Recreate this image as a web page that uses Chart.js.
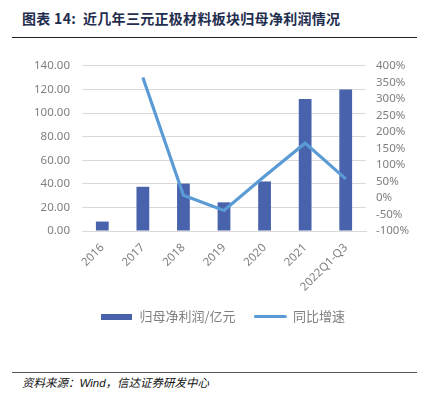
<!DOCTYPE html>
<html><head><meta charset="utf-8">
<script src="https://cdn.jsdelivr.net/npm/chart.js@4.4.0/dist/chart.umd.min.js"></script>
<style>
html,body{margin:0;padding:0;background:#fff;width:423px;height:397px;overflow:hidden;}
#title{position:absolute;left:22px;top:8px;font-family:"Noto Sans CJK SC";font-weight:bold;font-size:14px;color:#1f2d4e;white-space:nowrap;letter-spacing:0.3px;}
#topline{position:absolute;left:12px;top:37px;width:405px;height:0;border-top:1px solid #222;}
#botline{position:absolute;left:12px;top:372px;width:405px;height:0;border-top:1px solid #555;}
#source{position:absolute;left:22px;top:374px;font-family:"Noto Sans CJK SC";font-style:italic;font-size:11.5px;color:#111;white-space:nowrap;}
#wrap{position:absolute;left:0;top:47px;width:423px;height:294px;}
</style></head>
<body>
<div id="title">图表 14:&nbsp; 近几年三元正极材料板块归母净利润情况</div>
<div id="topline"></div>
<div id="wrap"><canvas id="c"></canvas></div>
<div id="botline"></div>
<div id="source">资料来源：<span style="font-family:'Liberation Sans'">Wind</span>，信达证券研发中心</div>
<script>
const categories = ["2016","2017","2018","2019","2020","2021","2022Q1-Q3"];
const profit = [8, 37.5, 40.2, 24.3, 42, 112, 120];
const growth = [null, 365, 8, -38, 66, 166, 58];
const leftTicks = [0,20,40,60,80,100,120,140];
const rightTicks = [-100,-50,0,50,100,150,200,250,300,350,400];
const seriesNames = ["归母净利润/亿元","同比增速"];

const barColor = "#4863ab";
const lineColor = "#5b9bd5";

function swatch(w,h,color,round){
  const c=document.createElement('canvas');c.width=w;c.height=h;
  const x=c.getContext('2d');x.fillStyle=color;
  if(round){x.beginPath();x.moveTo(h/2,0);x.lineTo(w-h/2,0);x.arc(w-h/2,h/2,h/2,-Math.PI/2,Math.PI/2);x.lineTo(h/2,h);x.arc(h/2,h/2,h/2,Math.PI/2,Math.PI*1.5);x.fill();}
  else x.fillRect(0,0,w,h);
  return c;
}
const barSw = swatch(31,6,barColor,false);
const lineSw = swatch(33,3,lineColor,true);

const tickFont = {family:"'Noto Sans'", size:11.5};
const tickColor = "#7f7f7f";

new Chart(document.getElementById('c'), {
  data:{
    labels:categories,
    datasets:[
      {type:'line',label:seriesNames[1],data:growth,yAxisID:'y1',borderColor:lineColor,backgroundColor:lineColor,borderWidth:3.2,pointRadius:0,tension:0,spanGaps:false,order:0},
      {type:'bar',label:seriesNames[0],data:profit,yAxisID:'y',backgroundColor:barColor,barPercentage:0.63,categoryPercentage:0.5,order:1}
    ]
  },
  options:{
    responsive:true,maintainAspectRatio:false,animation:false,
    layout:{padding:{top:2,left:22,right:0,bottom:8}},
    plugins:{
      tooltip:{enabled:false},
      legend:{position:'bottom',reverse:true,
        labels:{usePointStyle:true,pointStyleWidth:33,boxHeight:6,padding:18,
          font:{family:"'Noto Sans CJK SC'",size:13},color:'#7f7f7f',
          generateLabels:(chart)=>{
            const l=Chart.defaults.plugins.legend.labels.generateLabels(chart);
            l.forEach(it=>{it.pointStyle = it.datasetIndex===0?lineSw:barSw; it.lineWidth=0;});
            return l;
          }}
      }
    },
    scales:{
      x:{grid:{display:false},border:{display:true,color:'#d9d9d9'},
        ticks:{minRotation:45,maxRotation:45,font:tickFont,color:tickColor,padding:2},
        afterFit:(a)=>{a.height=61;}},
      y:{position:'left',min:0,max:140,
        afterBuildTicks:(a)=>{a.ticks=leftTicks.map(v=>({value:v}));},
        ticks:{autoSkip:false,callback:v=>v.toFixed(2),font:tickFont,color:tickColor,padding:12},
        grid:{color:'#d9d9d9',lineWidth:1,drawTicks:false},border:{display:false},
        afterFit:(a)=>{a.width=60;}},
      y1:{position:'right',min:-100,max:400,
        afterBuildTicks:(a)=>{a.ticks=rightTicks.map(v=>({value:v}));},
        ticks:{autoSkip:false,callback:v=>v+'%',font:tickFont,color:tickColor,padding:10},
        grid:{display:false,drawTicks:false},border:{display:false},
        afterFit:(a)=>{a.width=57;}}
    }
  }
});
</script>
</body></html>
